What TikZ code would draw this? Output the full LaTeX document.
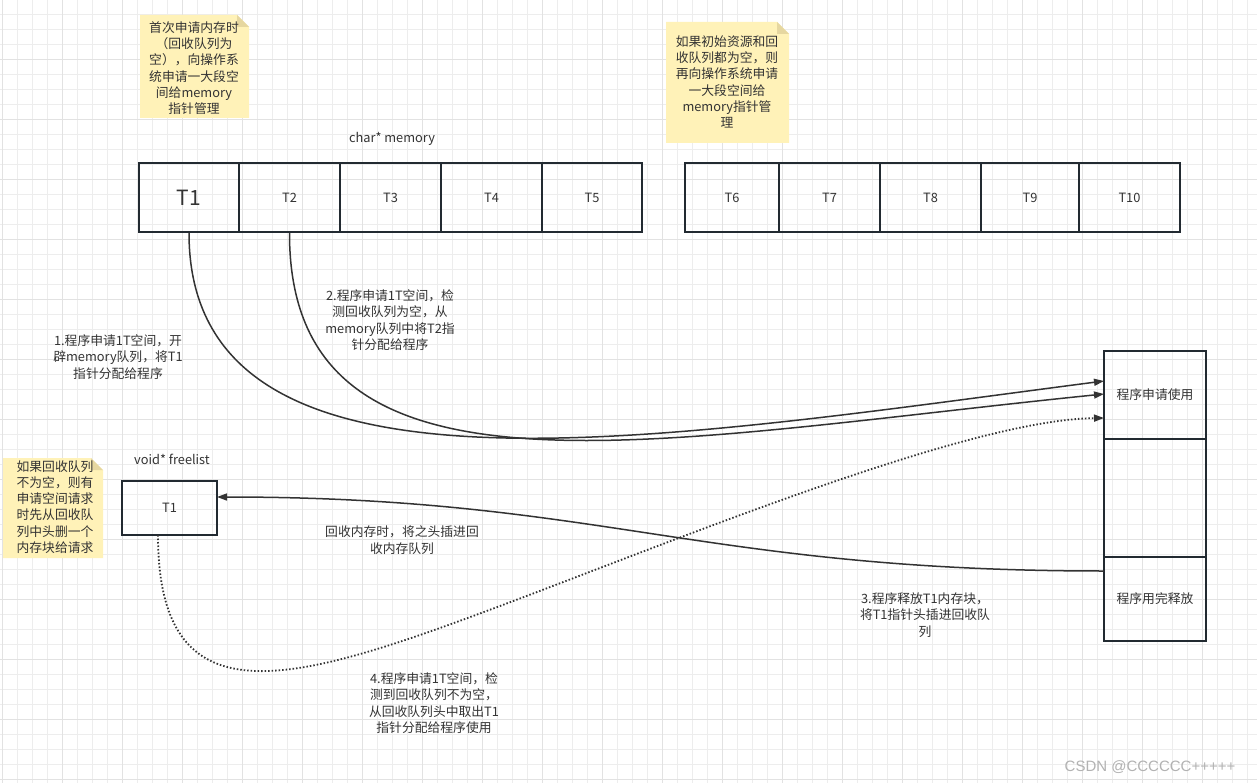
\documentclass[tikz,border=0pt]{standalone}
\usepackage{fontspec}
\setmainfont{Noto Sans CJK SC}
\newfontfamily\wmfont{Liberation Sans}
\usetikzlibrary{arrows.meta}
\definecolor{gridc}{HTML}{EDEDED}
\definecolor{gridm}{HTML}{E2E2E2}
\definecolor{boxc}{HTML}{222A31}
\definecolor{txtc}{HTML}{333333}
\definecolor{notef}{HTML}{FFF2B8}
\definecolor{notefold}{HTML}{E6D7A0}
\tikzset{
  cell/.style={draw=boxc, line width=2pt, inner sep=0pt, text=txtc, font=\fontsize{12.8}{14}\selectfont},
  lbl/.style={text=txtc, align=center, inner sep=0pt, font=\fontsize{12.8}{16.3}\selectfont},
  conn/.style={draw=txtc, line width=1.5pt},
  tip/.style={-{Triangle[length=10pt,width=7pt]}},
  notebg/.style={fill=notef, draw=none},
  fold/.style={fill=notefold, draw=none}
}
\begin{document}
\begin{tikzpicture}[x=1pt,y=-1pt]
\useasboundingbox (0,0) rectangle (1257,783);
\fill[white] (0,0) rectangle (1257,783);
% grid
\foreach \i in {0,...,84} { \draw[gridc, line width=0.8pt] ({2+15*\i},0) -- ({2+15*\i},783); }
\foreach \i in {0,...,53} { \draw[gridc, line width=0.8pt] (0,{-1+15*\i}) -- (1257,{-1+15*\i}); }
\foreach \i in {0,...,21} { \draw[gridm, line width=0.8pt] ({2+60*\i},0) -- ({2+60*\i},783); }
\foreach \i in {0,...,13} { \draw[gridm, line width=0.8pt] (0,{-1+60*\i}) -- (1257,{-1+60*\i}); }

% notes
\fill[notebg] (140,15) -- (237,15) -- (249,27) -- (249,118) -- (140,118) -- cycle;
\fill[fold] (237,15) -- (237,27) -- (249,27) -- cycle;
\node[lbl] (n1) at (194,68) {首次申请内存时\\（回收队列为\\空），向操作系\\统申请一大段空\\间给memory\\指针管理};

\fill[notebg] (666,22) -- (777,22) -- (789,34) -- (789,143) -- (666,143) -- cycle;
\fill[fold] (777,22) -- (777,34) -- (789,34) -- cycle;
\node[lbl] (n2) at (727,82) {如果初始资源和回\\收队列都为空，则\\再向操作系统申请\\一大段空间给\\memory指针管\\理};

\fill[notebg] (3,458) -- (91,458) -- (103,470) -- (103,558) -- (3,558) -- cycle;
\fill[fold] (91,458) -- (91,470) -- (103,470) -- cycle;
\node[lbl] (n3) at (55,507) {如果回收队列\\不为空，则有\\申请空间请求\\时先从回收队\\列中头删一个\\内存块给请求};

% memory cells
\node[lbl] (memlbl) at (392,139) {char* memory};
\node[cell, minimum width=100pt, minimum height=69pt, font=\fontsize{21}{23}\selectfont] (t1) at (189,197.5) {T1};
\node[cell, minimum width=101pt, minimum height=69pt] (t2) at (289.5,197.5) {T2};
\node[cell, minimum width=101pt, minimum height=69pt] (t3) at (390.5,197.5) {T3};
\node[cell, minimum width=101pt, minimum height=69pt] (t4) at (491.5,197.5) {T4};
\node[cell, minimum width=100pt, minimum height=69pt] (t5) at (592,197.5) {T5};
\node[cell, minimum width=94pt, minimum height=69pt] (t6) at (732,197.5) {T6};
\node[cell, minimum width=101pt, minimum height=69pt] (t7) at (829.5,197.5) {T7};
\node[cell, minimum width=101pt, minimum height=69pt] (t8) at (930.5,197.5) {T8};
\node[cell, minimum width=98pt, minimum height=69pt] (t9) at (1030,197.5) {T9};
\node[cell, minimum width=101pt, minimum height=69pt] (t10) at (1129.5,197.5) {T10};

% right column
\node[cell, minimum width=102pt, minimum height=88pt] (use) at (1155,395) {程序申请使用};
\node[cell, minimum width=102pt, minimum height=118pt] (mid) at (1155,498) {};
\node[cell, minimum width=102pt, minimum height=84pt] (rel) at (1155,599) {程序用完释放};

% freelist
\node[lbl] (fllbl) at (172,459) {void* freelist};
\node[cell, minimum width=95pt, minimum height=54pt] (f1) at (169.5,508) {T1};

% connectors
\coordinate (a1) at (1104,381);
\coordinate (a2) at (1104,394);
\coordinate (a3) at (1104,418);
\coordinate (r1) at (1104,571);
\coordinate (f1r) at (217,497);
\draw[conn, tip] (t1.south) .. controls (189,520) and (650,440) .. (a1);
\draw[conn, tip] (t2.south) .. controls (289,520) and (650,440) .. (a2);
\draw[conn, tip] (r1) .. controls (700,571) and (600,497) .. (f1r);
\draw[conn, tip, dotted, line width=1.8pt] (158,535) .. controls (158,700) and (260,690) .. (420,635) .. controls (600,573) and (950,420) .. (a3);

% labels
\node[lbl] (l1) at (118,357) {1.程序申请1T空间，开\\辟memory队列，将T1\\指针分配给程序};
\node[lbl] (l2) at (390,320) {2.程序申请1T空间，检\\测回收队列为空，从\\memory队列中将T2指\\针分配给程序};
\node[lbl] (l5) at (402,540) {回收内存时，将之头插进回\\收内存队列};
\node[lbl] (l3) at (925,615) {3.程序释放T1内存块，\\将T1指针头插进回收队\\列};
\node[lbl] (l4) at (434,703) {4.程序申请1T空间，检\\测到回收队列不为空，\\从回收队列头中取出T1\\指针分配给程序使用};

\node[text=gray!60, inner sep=0pt, font=\wmfont\fontsize{15}{17}\selectfont] (wm) at (1150,767) {CSDN @CCCCCC+++++};
\end{tikzpicture}
\end{document}
